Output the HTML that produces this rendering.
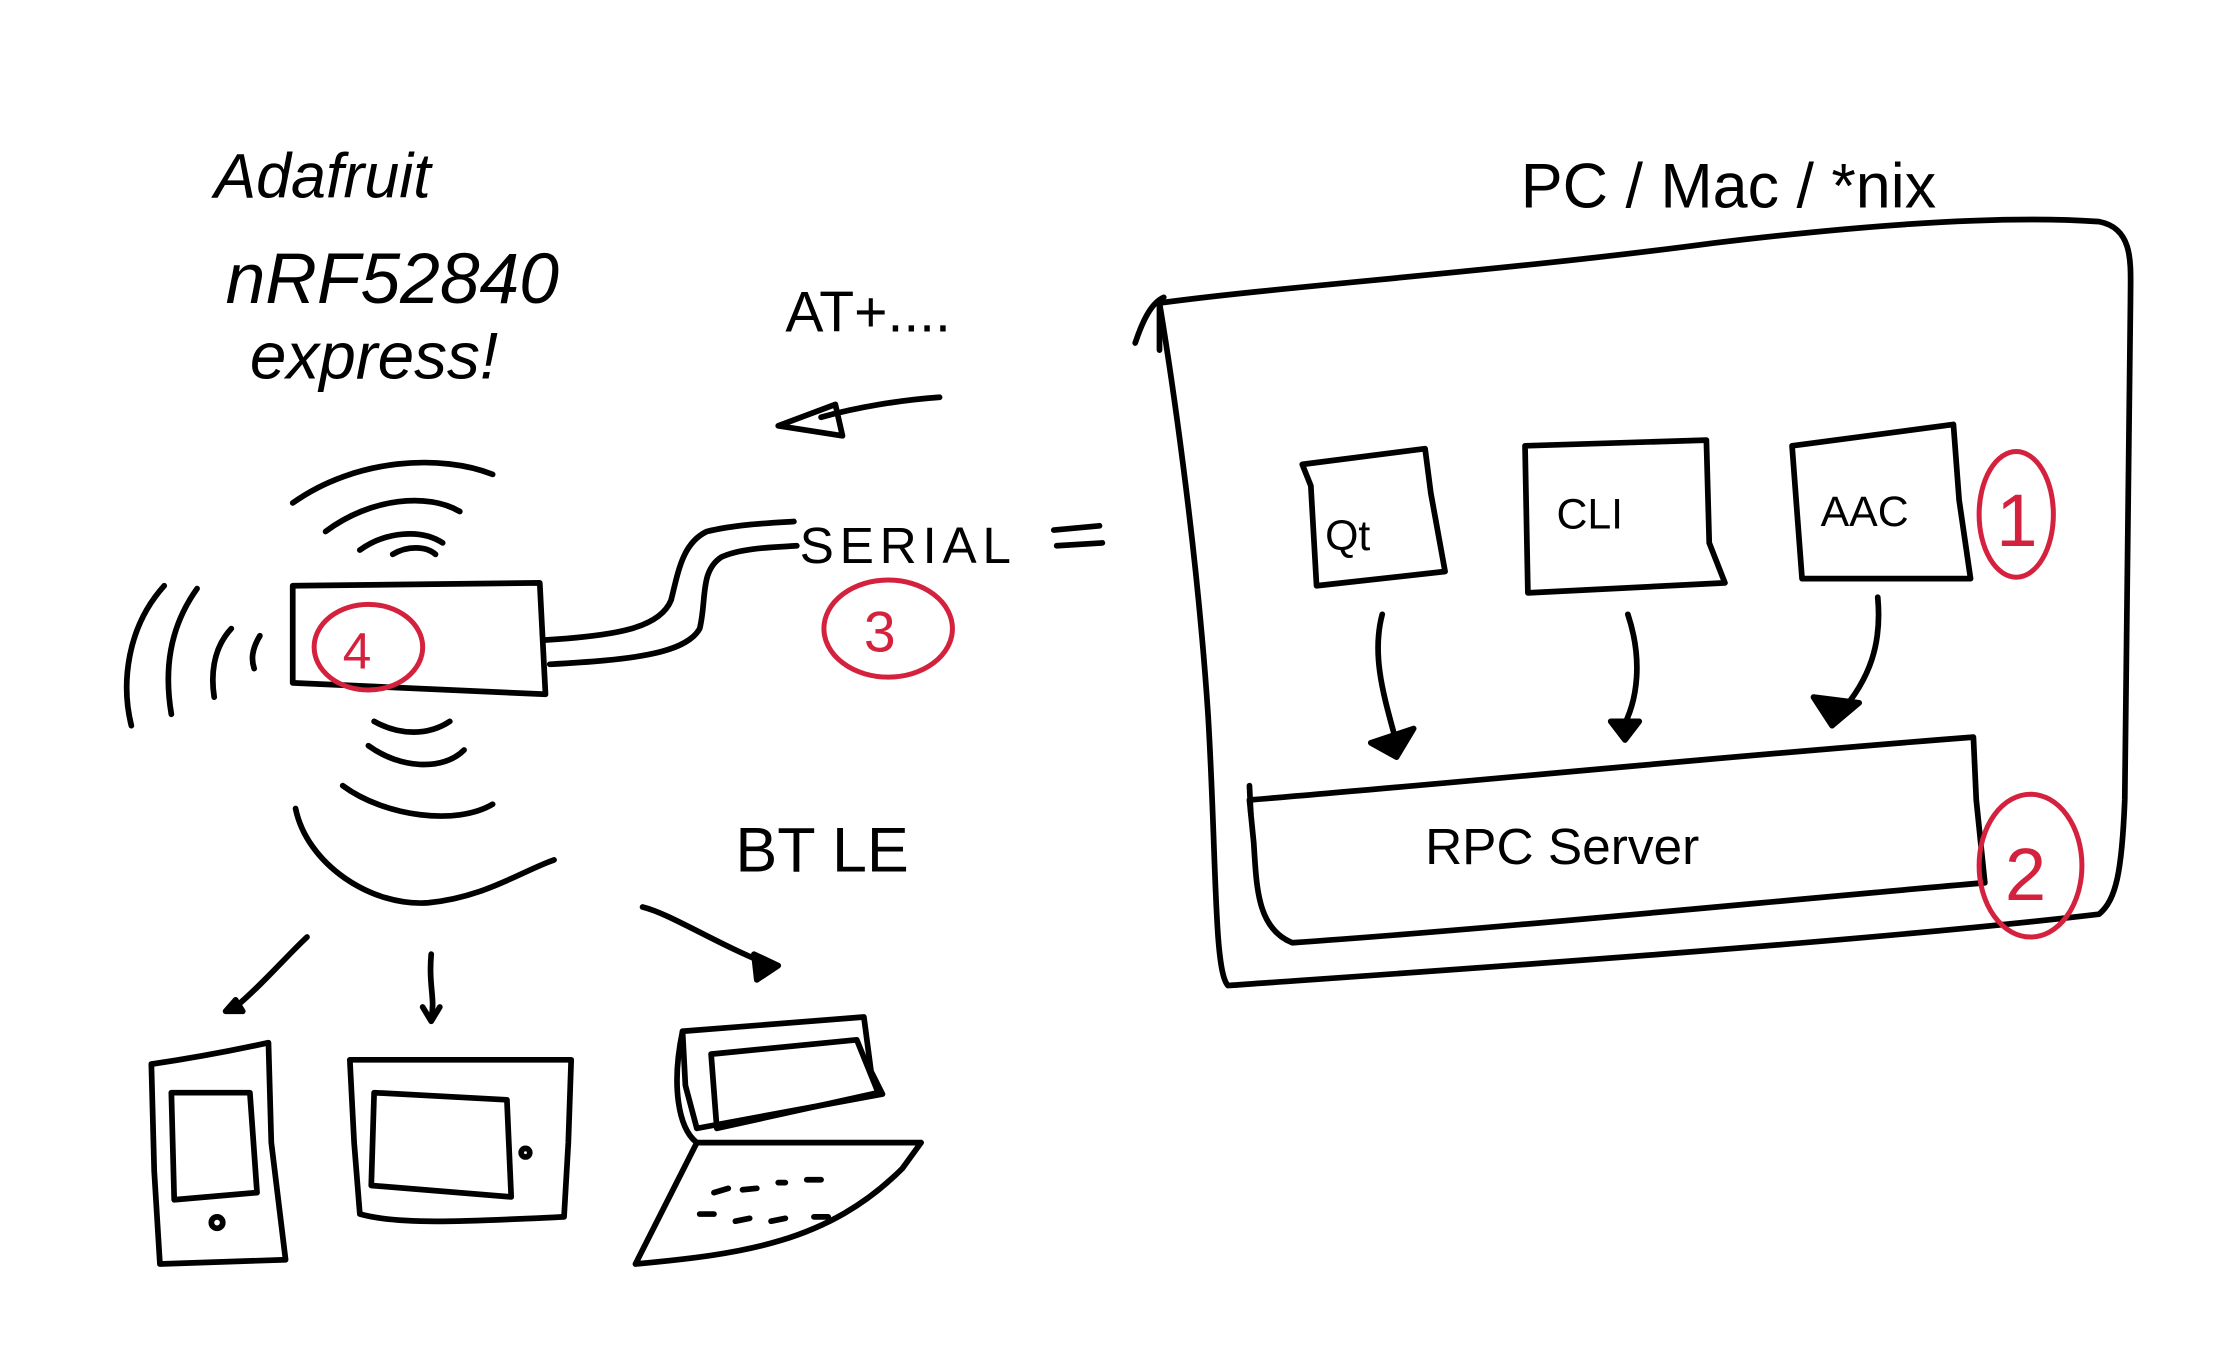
<!DOCTYPE html>
<html><head><meta charset="utf-8"><style>
html,body{margin:0;padding:0;background:#fff;}
svg{display:block}
text{font-family:"Liberation Sans",sans-serif;fill:#000}
</style></head><body>
<svg width="2239" height="1360" viewBox="0 0 1568 952" xmlns="http://www.w3.org/2000/svg">
<g fill="none" stroke="#000" stroke-width="4" stroke-linecap="round" stroke-linejoin="round">
<!-- big PC box -->
<path d="M812 212 C900 200 1050 190 1200 170 C1300 158 1400 150 1470 155 C1495 160 1492 185 1492 210 L1488 560 C1486 610 1482 630 1470 640 C1300 660 1000 680 860 690 C850 680 852 600 846 500 C838 380 820 260 812 212 Z"/>
<path d="M795 240 C800 225 806 212 815 208 M812 210 L812 245"/>
<!-- Qt -->
<path d="M912 325 L998 314 L1002 345 L1012 400 L922 410 L918 340 Z"/>
<!-- CLI -->
<path d="M1068 312 L1195 308 L1197 380 L1208 408 L1070 415 Z"/>
<!-- AAC -->
<path d="M1255 312 L1368 297 L1372 350 L1380 405 L1262 405 Z"/>
<!-- arrows to rpc -->
<path d="M968 430 C960 460 970 490 978 520"/>
<path d="M960 520 L978 530 L990 510 Z" fill="#000"/>
<path d="M1140 430 C1150 460 1148 490 1135 512"/>
<path d="M1128 505 L1138 518 L1148 505 Z" fill="#000"/>
<path d="M1315 418 C1318 450 1310 475 1288 500"/>
<path d="M1270 488 L1283 508 L1302 492 Z" fill="#000"/>
<!-- RPC server -->
<path d="M875 560 C1000 550 1200 530 1382 516 L1384 560 L1390 618 C1250 630 1050 650 905 660 C880 650 880 620 878 590 Z"/>
<path d="M875 550 L876 570"/>
<!-- AT arrow -->
<path d="M658 278 C630 280 600 285 575 292"/>
<path d="M545 298 L585 283 L590 305 Z"/>
<!-- SERIAL = -->
<path d="M738 371 L770 368 M740 382 L772 380"/>
<!-- device -->
<path d="M205 410 L378 408 L382 486 L205 478 Z"/>
<!-- cable -->
<path d="M382 448 C430 445 462 440 470 420 C475 400 478 380 495 372 C515 367 540 366 556 365"/>
<path d="M385 465 C440 462 480 458 490 440 C495 420 490 400 505 390 C520 383 545 383 558 382"/>
<!-- wifi top -->
<path d="M205 352 C250 320 310 318 345 332"/>
<path d="M228 372 C260 348 300 345 322 358"/>
<path d="M252 385 C270 372 295 370 310 380"/>
<path d="M275 388 C285 382 298 382 305 388"/>
<!-- wifi left -->
<path d="M115 410 C88 440 85 480 92 508"/>
<path d="M138 412 C118 440 115 470 120 500"/>
<path d="M162 440 C148 455 148 475 150 488"/>
<path d="M182 445 C176 455 176 462 178 468"/>
<!-- wifi bottom -->
<path d="M262 505 C280 515 300 515 315 505"/>
<path d="M258 522 C280 538 310 540 325 525"/>
<path d="M240 550 C270 572 320 578 345 563"/>
<path d="M207 566 C215 605 260 635 300 632 C340 628 365 610 388 602"/>
<!-- arrows to devices -->
<path d="M215 656 C200 670 185 688 165 705"/>
<path d="M158 708 L165 700 L170 708 Z" fill="#000"/>
<path d="M302 668 C300 690 305 700 302 712"/>
<path d="M296 705 L302 715 L308 705"/>
<path d="M450 635 C470 640 500 660 540 676"/>
<path d="M528 668 L545 676 L530 686 Z" fill="#000"/>
<!-- phone -->
<path d="M106 745 C140 740 165 735 188 730 L190 800 L200 882 L112 885 L108 820 Z"/>
<path d="M120 765 L175 765 L180 835 L122 840 Z"/>
<circle cx="152" cy="856" r="4"/>
<!-- tablet -->
<path d="M245 742 L400 742 L398 800 L395 852 C330 855 280 858 252 850 L248 800 Z"/>
<path d="M262 765 L355 770 L358 838 L260 830 Z"/>
<circle cx="368" cy="807" r="3"/>
<!-- laptop -->
<path d="M478 722 L605 712 L610 750 L618 766 L488 790 L480 760 Z"/>
<path d="M498 738 L600 728 L615 765 L502 790 Z"/>
<path d="M478 722 C470 760 475 790 488 800 C550 800 610 800 645 800"/>
<path d="M488 800 L445 885 C520 878 580 870 632 818 L645 800"/>
<path d="M500 835 L510 832 M520 833 L530 832 M545 828 L550 828 M565 826 L575 826 M490 850 L500 850 M515 855 L525 853 M540 855 L550 853 M570 852 L580 852"/>
</g>
<!-- red circles -->
<g fill="none" stroke="#d4213d" stroke-width="3.5">
<ellipse cx="1412" cy="360" rx="26" ry="44"/>
<ellipse cx="1422" cy="606" rx="36" ry="50"/>
<ellipse cx="622" cy="440" rx="45" ry="34"/>
<ellipse cx="258" cy="453" rx="38" ry="30"/>
</g>
<g fill="#d4213d" font-family="Liberation Sans,sans-serif">
<text x="1398" y="382" font-size="52" style="fill:#d4213d">1</text>
<text x="1404" y="630" font-size="52" style="fill:#d4213d">2</text>
<text x="605" y="456" font-size="40" style="fill:#d4213d">3</text>
<text x="240" y="468" font-size="36" style="fill:#d4213d">4</text>
</g>
<!-- text -->
<text x="150" y="138" font-size="44" font-style="italic">Adafruit</text>
<text x="158" y="212" font-size="50" font-style="italic">nRF52840</text>
<text x="175" y="265" font-size="46" font-style="italic">express!</text>
<text x="1065" y="145" font-size="44">PC / Mac / *nix</text>
<text x="550" y="232" font-size="40">AT+....</text>
<text x="560" y="394" font-size="36" letter-spacing="4">SERIAL</text>
<text x="515" y="610" font-size="44">BT  LE</text>
<text x="928" y="385" font-size="30">Qt</text>
<text x="1090" y="370" font-size="30">CLI</text>
<text x="1275" y="368" font-size="30">AAC</text>
<text x="998" y="605" font-size="36">RPC Server</text>
</svg>
</body></html>
